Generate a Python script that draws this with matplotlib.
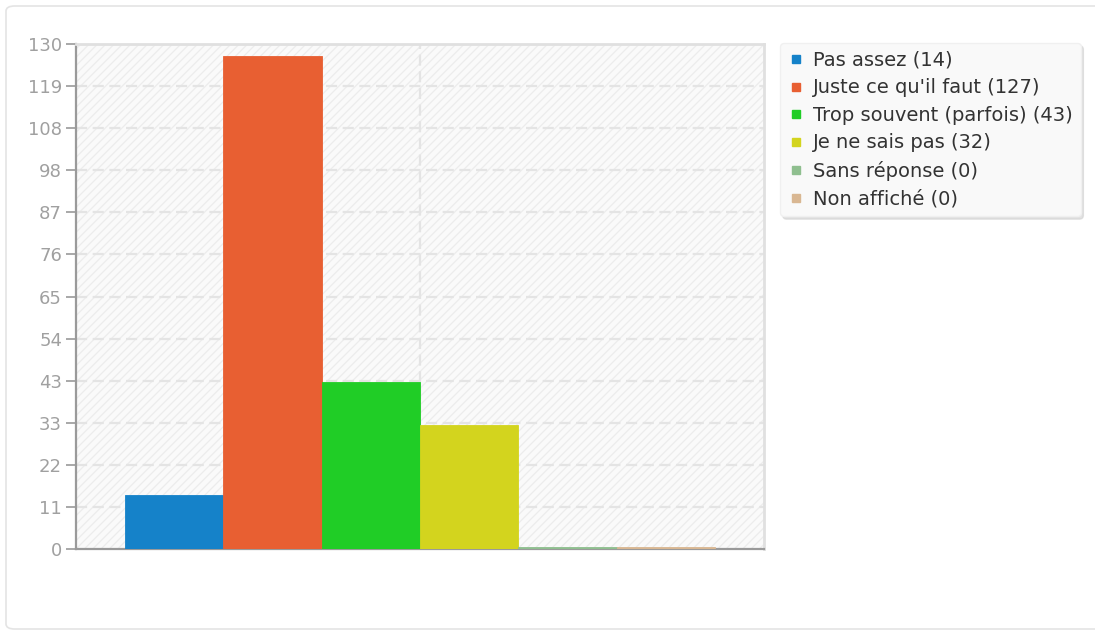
import matplotlib
matplotlib.use("Agg")
import matplotlib.pyplot as plt
from matplotlib.patches import FancyBboxPatch, Rectangle
from matplotlib.lines import Line2D

categories = ["Pas assez", "Juste ce qu'il faut", "Trop souvent (parfois)",
              "Je ne sais pas", "Sans réponse", "Non affiché"]
values = [14, 127, 43, 32, 0, 0]
colors = ["#1582c9", "#e85f32", "#20cd26", "#d3d41e", "#8fbf8f", "#d9b792"]
ytick_labels = ["0", "11", "22", "33", "43", "54", "65", "76", "87", "98", "108", "119", "130"]
ymax = 130

W, H = 1095, 631
plt.rcParams['font.family'] = ['DejaVu Sans']
plt.rcParams['hatch.linewidth'] = 0.9
fig = plt.figure(figsize=(W / 100, H / 100), dpi=100)
fig.patch.set_facecolor("white")

# outer panel
panel = FancyBboxPatch((6 / W, 2 / H), (W + 20) / W, (H - 8) / H,
                       boxstyle="round,pad=0,rounding_size=0.008",
                       transform=fig.transFigure, facecolor="white",
                       edgecolor="#e4e4e4", linewidth=1.2, zorder=0)
fig.patches.append(panel)

ax = fig.add_axes([76 / W, (H - 549) / H, (764 - 76) / W, (549 - 44) / H])
ax.set_facecolor("#fafafa")
ax.set_zorder(2)

bg = Rectangle((0, 0), 1, 1, transform=ax.transAxes, facecolor="#fafafa",
               edgecolor="#ececec", hatch="////", linewidth=0, zorder=0)
ax.add_patch(bg)

x = list(range(len(values)))
heights = [v if v > 0 else 0.55 for v in values]
ax.bar(x, heights, width=1.0, color=colors, edgecolor=colors,
       linewidth=0.6, zorder=5)

ax.set_xlim(-1, 6)
ax.set_ylim(0, ymax)
ticks = [i * ymax / 12 for i in range(13)]
ax.set_yticks(ticks)
ax.set_yticklabels(ytick_labels)
ax.set_xticks([])

for t in ticks[1:-1]:
    ax.axhline(t, color="#e4e4e4", linewidth=1.6, linestyle=(0, (5, 2.5)), zorder=1)
ax.axvline(2.5, color="#e4e4e4", linewidth=1.6, linestyle=(0, (5, 2.5)), zorder=1)

for side in ["top", "right"]:
    ax.spines[side].set_color("#e0e0e0")
    ax.spines[side].set_linewidth(2)
for side in ["left", "bottom"]:
    ax.spines[side].set_color("#9a9a9a")
    ax.spines[side].set_linewidth(1.6)
ax.spines["bottom"].set_zorder(4)

ax.tick_params(axis="y", direction="out", length=7, width=1.2, color="#9a9a9a",
               labelcolor="#a0a0a0", labelsize=13, pad=3)

handles = [Line2D([0], [0], marker="s", linestyle="none", markersize=5.5,
                  markerfacecolor=c, markeredgecolor=c) for c in colors]
labels = [f"{c} ({v})" for c, v in zip(categories, values)]
leg = fig.legend(handles, labels, loc="upper left",
                 bbox_to_anchor=(780 / W, 1 - 43 / H), frameon=True,
                 fontsize=14, handlelength=0.8, handletextpad=0.5,
                 labelspacing=0.44, borderpad=0.4, borderaxespad=0,
                 fancybox=True,
                 shadow={"color": "#d0d0d0", "alpha": 0.6})
leg.get_frame().set_facecolor("#f9f9f9")
leg.get_frame().set_edgecolor("#f0f0f0")
leg.get_frame().set_alpha(1)
for t in leg.get_texts():
    t.set_color("#333333")

fig.savefig("out.png", dpi=100)
